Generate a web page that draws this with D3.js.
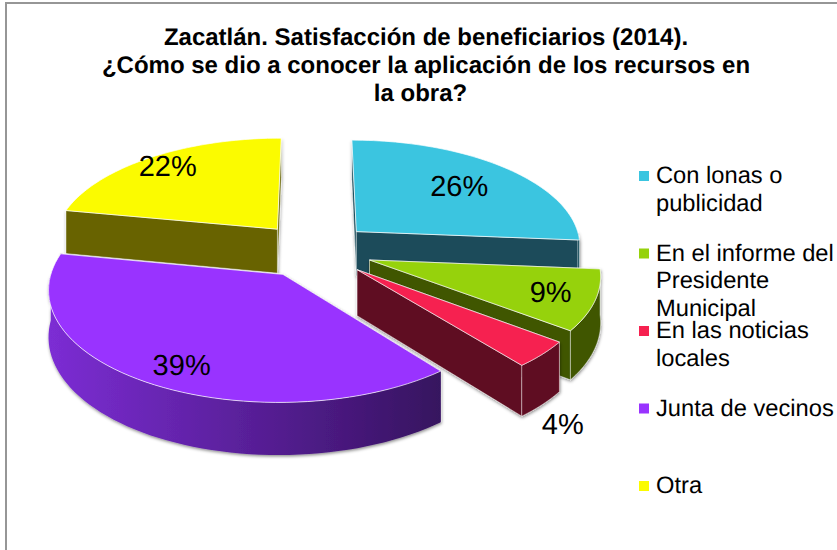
<!DOCTYPE html>
<html>
<head>
<meta charset="utf-8">
<script src="https://cdn.jsdelivr.net/npm/d3@7"></script>
<style>
  html, body { margin: 0; padding: 0; background: #fff; }
  text { font-family: "Liberation Sans", Arial, sans-serif; fill: #000; text-rendering: geometricPrecision; }
</style>
</head>
<body>
<div id="chart"></div>
<script>
const titleLines = [
    "Zacatlán. Satisfacción de beneficiarios (2014).",
    "¿Cómo se dio a conocer la aplicación de los recursos en",
    "la obra?"
];
const categories = ["Con lonas o publicidad", "En el informe del Presidente Municipal", "En las noticias locales", "Junta de vecinos", "Otra"];
const legendLines = [
    ["Con lonas o", "publicidad"],
    ["En el informe del", "Presidente", "Municipal"],
    ["En las noticias", "locales"],
    ["Junta de vecinos"],
    ["Otra"]
];
// read from the slice edges, the labels show these rounded
const values = [26.3, 9, 3.9, 38.8, 22];
const topColors = ["#3bc5e0", "#96d20c", "#f62150", "#9933ff", "#fbfb00"];
const wallColors = ["#1a4c5a", "#3f5604", "#5f0d20", "#4a1a85", "#676400"];

// label placement, as multiples of the pie radius, plus a drop down the screen
const labelRadius = [0.94, 1.07, 1.36, 1.02, 1.12];
const labelDrop = [0, 0, 61, 12, 0];

const width = 837, height = 550;
const cx = 314, cy = 250;
const rx = 226, ry = 106.5, depth = 45;
const persp = 0.119;
const explode = 0.26;

const svg = d3.select("#chart").append("svg")
    .attr("width", width)
    .attr("height", height)
    .style("display", "block");

const defs = svg.append("defs");

const shadow = defs.append("filter")
    .attr("id", "wallShadow")
    .attr("x", "-10%").attr("y", "-10%")
    .attr("width", "120%").attr("height", "125%");
shadow.append("feDropShadow")
    .attr("dx", 0.5).attr("dy", 1.5)
    .attr("stdDeviation", 1.5)
    .attr("flood-color", "#000")
    .attr("flood-opacity", 0.45);

const purpleWall = defs.append("linearGradient").attr("id", "purpleWall");
purpleWall.append("stop").attr("offset", "0%").attr("stop-color", "#7c2dd4");
purpleWall.append("stop").attr("offset", "100%").attr("stop-color", "#36125f");

// chart frame, its right and bottom sides are cropped by the picture
svg.append("rect")
    .attr("x", 6).attr("y", 3)
    .attr("width", 900).attr("height", 600)
    .attr("fill", "#fff")
    .attr("stroke", "#969696")
    .attr("stroke-width", 2);

// title
svg.append("g").selectAll("text")
    .data(titleLines)
    .join("text")
    .attr("x", (d, i) => i === 2 ? 420.5 : 426)
    .attr("y", (d, i) => 45 + i * 28)
    .attr("text-anchor", "middle")
    .attr("font-size", 24)
    .attr("font-weight", "bold")
    .text(d => d);

// the pie itself
const pie = d3.pie().sort(null).value(d => d);
const arcs = pie(values);

// ground plane -> screen, u to the right and v towards the viewer
function project(u, v, z) {
    const s = 1 / (1 - persp * v);
    return [cx + rx * u * s, cy + ry * v * s + (z ? depth * s : 0)];
}
function rim(a, d, z) {
    const mid = (d.startAngle + d.endAngle) / 2;
    return project(Math.sin(a) + explode * Math.sin(mid), -Math.cos(a) - explode * Math.cos(mid), z);
}
function apex(d, z) {
    const mid = (d.startAngle + d.endAngle) / 2;
    return project(explode * Math.sin(mid), -explode * Math.cos(mid), z);
}

const line = d3.line().curve(d3.curveLinear);

function rimAngles(a0, a1) {
    return d3.range(0, 61).map(i => a0 + (a1 - a0) * i / 60);
}

function radialWall(d, a) {
    return line([apex(d, false), rim(a, d, false), rim(a, d, true), apex(d, true)]) + "Z";
}
function arcWall(d) {
    // only the part of the rim facing the viewer
    const a0 = Math.max(d.startAngle, Math.PI / 2);
    const a1 = Math.min(d.endAngle, Math.PI * 1.5);
    if (a1 <= a0) return null;
    const angles = rimAngles(a0, a1);
    return line(angles.map(a => rim(a, d, false)).concat(angles.slice().reverse().map(a => rim(a, d, true)))) + "Z";
}
function topFace(d) {
    return line([apex(d, false)].concat(rimAngles(d.startAngle, d.endAngle).map(a => rim(a, d, false)))) + "Z";
}

// back to front
const drawOrder = [0, 4, 1, 2, 3];
const slices = svg.append("g").selectAll("g")
    .data(drawOrder.map(i => Object.assign({ idx: i }, arcs[i])))
    .join("g");

slices.each(function(d) {
    const g = d3.select(this);
    const walls = g.append("g").attr("filter", "url(#wallShadow)");
    const wallFill = d.idx === 3 ? "url(#purpleWall)" : wallColors[d.idx];
    const faces = [
        { path: radialWall(d, d.startAngle), depth: -Math.cos(d.startAngle) },
        { path: radialWall(d, d.endAngle), depth: -Math.cos(d.endAngle) },
    ].sort((a, b) => a.depth - b.depth);
    faces.forEach(f => {
        walls.append("path")
            .attr("d", f.path)
            .attr("fill", wallColors[d.idx])
            .attr("stroke", "#fff").attr("stroke-opacity", 0.55).attr("stroke-width", 0.8);
    });
    const front = arcWall(d);
    if (front) {
        walls.append("path")
            .attr("d", front)
            .attr("fill", wallFill)
            .attr("stroke", d.idx === 3 ? "none" : "#fff").attr("stroke-opacity", 0.55).attr("stroke-width", 0.8);
    }
    g.append("path")
        .attr("d", topFace(d))
        .attr("fill", topColors[d.idx])
        .attr("stroke", "#fff").attr("stroke-opacity", 0.7).attr("stroke-width", 1);
});

// percentage labels
svg.append("g").selectAll("text")
    .data(arcs)
    .join("text")
    .attr("text-anchor", "middle")
    .attr("dominant-baseline", "central")
    .attr("font-size", 29)
    .attr("transform", (d, i) => {
        const mid = (d.startAngle + d.endAngle) / 2;
        const p = project(labelRadius[i] * Math.sin(mid), -labelRadius[i] * Math.cos(mid), false);
        return "translate(" + p[0] + "," + (p[1] + labelDrop[i]) + ")";
    })
    .text(d => Math.round(d.data) + "%");

// legend
const legendY = d3.scalePoint().domain(categories).range([176, 486]);
const legend = svg.append("g").selectAll("g")
    .data(categories)
    .join("g")
    .attr("transform", d => "translate(639," + legendY(d) + ")");

legend.append("rect")
    .attr("x", 0).attr("y", -5)
    .attr("width", 10).attr("height", 10)
    .attr("fill", (d, i) => topColors[i]);

legend.each(function(d, i) {
    d3.select(this).selectAll("text")
        .data(legendLines[i])
        .join("text")
        .attr("x", 17)
        .attr("y", (t, j) => 7 + j * 27.5)
        .attr("font-size", 23.7)
        .text(t => t);
});
</script>
</body>
</html>
